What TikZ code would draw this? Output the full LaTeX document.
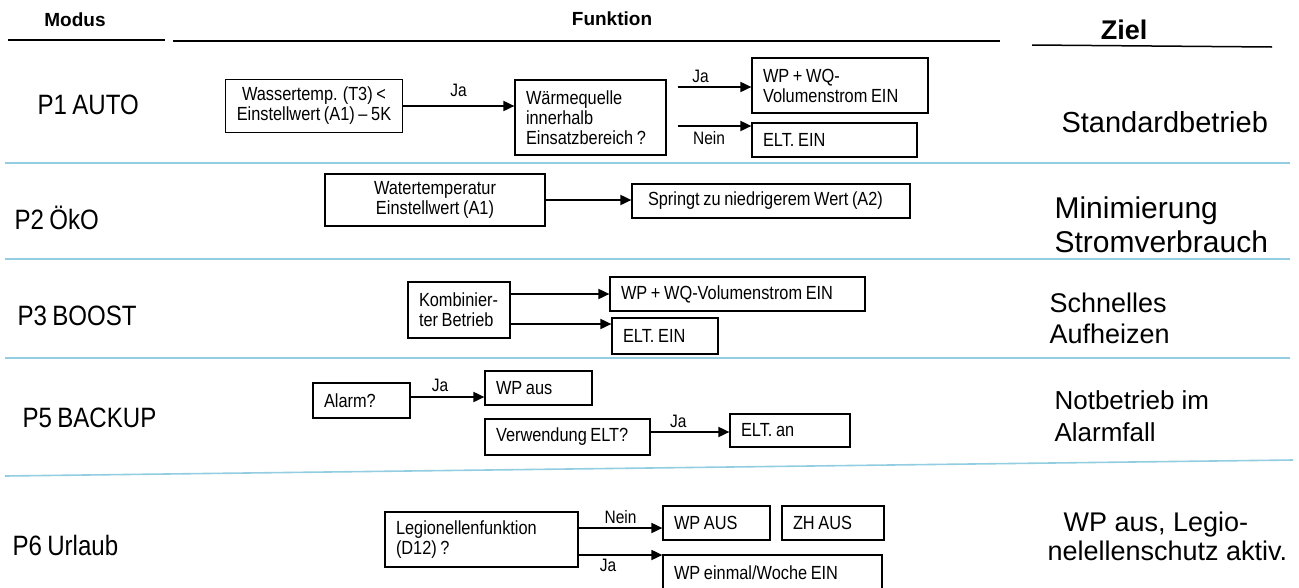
\documentclass[tikz,border=0pt]{standalone}
\usepackage{fontspec}
\setmainfont{Liberation Sans}
\newfontfamily\narrowsf[FakeStretch=0.86,WordSpace=0.8]{Liberation Sans}
\usetikzlibrary{arrows.meta}
\definecolor{rowline}{RGB}{146,205,225}
\tikzset{
  box/.style={draw, line width=1.2pt, inner xsep=11pt, inner ysep=3pt, font=\narrowsf\fontsize{19}{20}\selectfont},
  arr/.style={-{Triangle[length=11pt,width=10pt]}, line width=1.8pt},
  lbl/.style={font=\narrowsf\fontsize{18}{20}\selectfont, inner sep=2pt},
  modus/.style={font=\narrowsf\fontsize{28}{30}\selectfont, anchor=west},
  ziel/.style={font=\fontsize{28}{34}\selectfont, anchor=west, align=left},
  head/.style={font=\bfseries\fontsize{19}{22}\selectfont},
  sep/.style={rowline, line width=1.6pt},
}
\begin{document}
\begin{tikzpicture}[x=1pt,y=-1pt]
\useasboundingbox (0,0) rectangle (1299,587);

\node[head] (hmod) at (75,20) {Modus};
\node[head] (hfun) at (612,19) {Funktion};
\node[head, font=\bfseries\fontsize{27}{30}\selectfont] (hziel) at (1124,30) {Ziel};
\draw[line width=1.5pt] (8,40) -- (165,40);
\draw[line width=1.5pt] (173,41) -- (1000,41);
\draw[line width=1.5pt] (1032,45) -- (1272,47);

\draw[sep] (5,163) -- (1290,163);
\draw[sep] (5,259) -- (1290,259);
\draw[sep] (5,358) -- (1290,358);
\draw[sep] (5,476) -- (1293,460);

\node[modus] (m1) at (34,105) {P1 AUTO};
\node[modus] (m2) at (11,218) {P2 ÖkO};
\node[modus] (m3) at (14,316) {P3 BOOST};
\node[modus] (m5) at (19,418) {P5 BACKUP};
\node[modus] (m6) at (9,545) {P6 Urlaub};

\node[ziel, font=\fontsize{29}{34}\selectfont] (z1) at (1058,122) {Standardbetrieb};
\node[ziel, font=\fontsize{30}{34}\selectfont] (z2) at (1051,225) {Minimierung\\Stromverbrauch};
\node[ziel, font=\fontsize{27}{31}\selectfont] (z3) at (1046,318) {Schnelles\\Aufheizen};
\node[ziel, font=\fontsize{26}{32}\selectfont] (z5) at (1051,416) {Notbetrieb im\\Alarmfall};
\node[ziel, font=\fontsize{27}{29}\selectfont] (z6) at (1044,536) {\hspace*{16pt}WP aus, Legio-\\nelellenschutz aktiv.};

\node[box, minimum width=172pt, minimum height=53pt, align=center] (p1a) at (314,106) {Wassertemp. (T3) <\\Einstellwert (A1) – 5K};
\node[box, text width=129pt, minimum height=75pt, align=flush left] (p1b) at (590.5,117.5) {Wärmequelle\\innerhalb\\Einsatzbereich ?};
\node[box, text width=154pt, minimum height=55pt, align=flush left] (p1c) at (840,85.5) {WP + WQ-\\Volumenstrom EIN};
\node[box, text width=143pt, minimum height=34pt, align=flush left] (p1d) at (834.5,140) {ELT. EIN};
\draw[arr] (p1a.east) -- (p1a.east -| p1b.west) node[lbl, midway, above=6pt] {Ja};
\draw[arr, shorten <=11pt] (p1b.east |- 0,87) -- (p1c.west |- 0,87) node[lbl, pos=0.4, above=1pt] {Ja};
\draw[arr, shorten <=11pt] (p1b.east |- 0,126) -- (p1d.west |- 0,126) node[lbl, pos=0.5, below=3pt] {Nein};

\node[box, minimum width=220pt, minimum height=52pt, align=center] (p2a) at (435,200) {Watertemperatur\\Einstellwert (A1)};
\node[box, text width=256pt, minimum height=34pt, align=flush left] (p2b) at (771,201) {\hspace*{5pt}Springt zu niedrigerem Wert (A2)};
\draw[arr] (p2a.east) -- (p2a.east -| p2b.west);

\node[box, text width=80pt, minimum height=56pt, align=flush left] (p3a) at (459,310) {Kombinier-\\ter Betrieb};
\node[box, text width=233pt, minimum height=34pt, align=flush left] (p3b) at (737.5,294) {WP + WQ-Volumenstrom EIN};
\node[box, text width=84pt, minimum height=36pt, align=flush left] (p3c) at (665,336) {ELT. EIN};
\draw[arr] (p3a.east |- p3b) -- (p3b.west);
\draw[arr] (p3a.east |- 0,324) -- (p3c.west |- 0,324);

\node[box, text width=75pt, minimum height=35pt, align=flush left] (p5a) at (361.5,400.5) {Alarm?};
\node[box, text width=85pt, minimum height=34pt, align=flush left] (p5b) at (538.5,388) {WP aus};
\node[box, text width=143pt, minimum height=36pt, align=flush left] (p5c) at (567.5,437) {Verwendung ELT?};
\node[box, text width=98pt, minimum height=33pt, align=flush left] (p5d) at (790,430.5) {ELT. an};
\draw[arr] (p5a.east |- 0,397) -- (p5b.west |- 0,397) node[lbl, pos=0.4, above=2pt] {Ja};
\draw[arr] (p5c.east |- 0,432) -- (p5d.west |- 0,432) node[lbl, pos=0.35, above=1pt] {Ja};

\node[box, text width=171pt, minimum height=55pt, align=flush left] (p6a) at (481.5,539.5) {Legionellenfunktion\\(D12) ?};
\node[box, text width=85pt, minimum height=34pt, align=flush left] (p6b) at (716.5,523) {WP AUS};
\node[box, text width=80pt, minimum height=34pt, align=flush left] (p6c) at (833,523) {ZH AUS};
\node[box, text width=197pt, minimum height=36pt, align=flush left] (p6d) at (772.5,573) {WP einmal/Woche EIN};
\draw[arr] (p6a.east |- 0,528) -- (p6b.west |- 0,528) node[lbl, midway, above=1pt] {Nein};
\draw[arr] (p6a.east |- 0,555) -- (p6d.west |- 0,555) node[lbl, pos=0.35, below=1pt] {Ja};
\end{tikzpicture}
\end{document}
